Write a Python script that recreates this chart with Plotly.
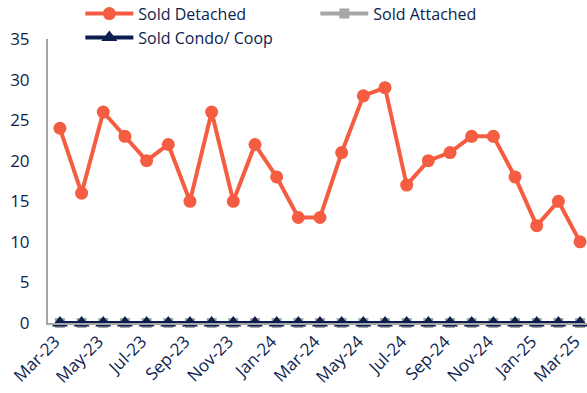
import plotly.graph_objects as go

months = ["Mar-23", "Apr-23", "May-23", "Jun-23", "Jul-23", "Aug-23", "Sep-23",
          "Oct-23", "Nov-23", "Dec-23", "Jan-24", "Feb-24", "Mar-24", "Apr-24",
          "May-24", "Jun-24", "Jul-24", "Aug-24", "Sep-24", "Oct-24", "Nov-24",
          "Dec-24", "Jan-25", "Feb-25", "Mar-25"]
sold_detached = [24, 16, 26, 23, 20, 22, 15, 26, 15, 22, 18, 13, 13, 21,
                 28, 29, 17, 20, 21, 23, 23, 18, 12, 15, 10]
sold_attached = [0] * len(months)
sold_condo = [0] * len(months)
tick_labels = months[::2]

NAVY = "#0C1D4F"
ORANGE = "#F45D41"
GRAY = "#A6A6A6"
FONT = "Open Sans"

fig = go.Figure()
fig.add_trace(go.Scatter(
    x=months, y=sold_detached, name="Sold Detached", mode="lines+markers",
    line=dict(color=ORANGE, width=4),
    marker=dict(symbol="circle", size=13, color=ORANGE),
    cliponaxis=False,
))
fig.add_trace(go.Scatter(
    x=months, y=sold_attached, name="Sold Attached", mode="lines+markers",
    line=dict(color=GRAY, width=4),
    marker=dict(symbol="square", size=10, color=GRAY),
    cliponaxis=False,
))
fig.add_trace(go.Scatter(
    x=months, y=sold_condo, name="Sold Condo/ Coop", mode="lines+markers",
    line=dict(color=NAVY, width=4),
    marker=dict(symbol="triangle-up", size=14, color=NAVY),
    cliponaxis=False,
))

fig.update_layout(
    width=587, height=393,
    margin=dict(l=48, r=0, t=39, b=70, autoexpand=False),
    paper_bgcolor="white", plot_bgcolor="white",
    font=dict(family=FONT, color=NAVY, size=16),
    showlegend=True,
    legend=dict(
        orientation="h", x=0.06, y=1.149, xanchor="left", yanchor="top",
        entrywidth=172, entrywidthmode="pixels",
        font=dict(family=FONT, size=16, color=NAVY),
        itemwidth=48, tracegroupgap=0,
        bgcolor="rgba(0,0,0,0)",
    ),
    xaxis=dict(
        type="category", categoryorder="array", categoryarray=months,
        range=[-0.55, 24.32],
        tickmode="array", tickvals=tick_labels, ticktext=tick_labels,
        tickangle=-45, showgrid=False, zeroline=False,
        showline=True, linecolor=GRAY, linewidth=2,
        ticks="", automargin=False, ticklabelshift=-5,
        tickfont=dict(family=FONT, size=17, color=NAVY),
    ),
    yaxis=dict(
        range=[0, 35], dtick=5, showgrid=False, zeroline=False,
        showline=True, linecolor=GRAY, linewidth=2,
        ticks="", ticklabelstandoff=13, automargin=False,
        tickfont=dict(family=FONT, size=17, color=NAVY),
    ),
)

fig.write_html("out.html")
